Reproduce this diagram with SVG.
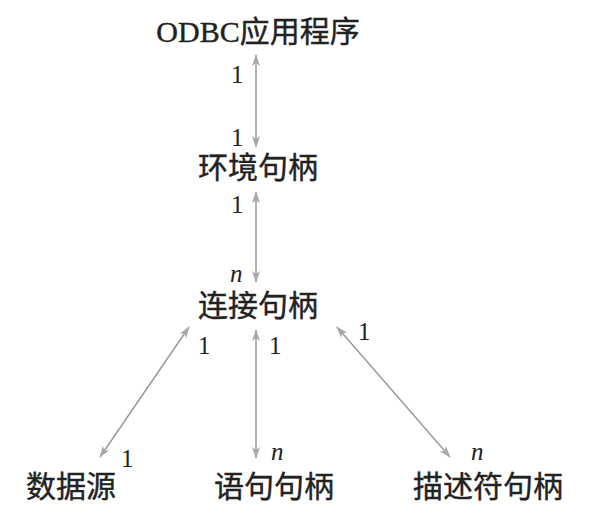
<svg xmlns="http://www.w3.org/2000/svg" width="604" height="520" viewBox="0 0 604 520">
<style>
.node{font-family:"Liberation Serif","Noto Sans CJK SC",serif;font-size:30px;fill:#222;stroke:#222;stroke-width:0.4;text-anchor:middle}
.lbl{font-family:"Liberation Serif",serif;font-size:25px;fill:#222}
.it{font-style:italic}
.conn{stroke:#9a9a9a;stroke-width:1.5;fill:none;marker-start:url(#ah);marker-end:url(#ah)}
</style>
<defs>
<marker id="ah" viewBox="0 0 12 8" refX="11" refY="4" markerWidth="13" markerHeight="8" markerUnits="userSpaceOnUse" orient="auto-start-reverse">
<path d="M0,0 L12,4 L0,8 L3,4 Z" fill="#a8a8a8"/>
</marker>
</defs>
<rect width="604" height="520" fill="#fff"/>
<g id="connectors">
<line class="conn" x1="256" y1="55" x2="256" y2="147"/>
<line class="conn" x1="256" y1="192" x2="256" y2="282"/>
<line class="conn" x1="189" y1="327" x2="100" y2="457"/>
<line class="conn" x1="256" y1="330" x2="256" y2="458"/>
<line class="conn" x1="337" y1="327" x2="450" y2="457"/>
</g>
<g id="labels">
<text class="lbl" x="231" y="83">1</text>
<text class="lbl" x="231" y="146">1</text>
<text class="lbl" x="231" y="213">1</text>
<text class="lbl it" x="230" y="282">n</text>
<text class="lbl" x="198" y="354">1</text>
<text class="lbl" x="121" y="467">1</text>
<text class="lbl" x="269" y="354">1</text>
<text class="lbl it" x="271" y="460">n</text>
<text class="lbl" x="358" y="340">1</text>
<text class="lbl it" x="471" y="460">n</text>
</g>
<g id="odbc"><text class="node" x="258" y="42">ODBC应用程序</text></g>
<g id="env"><text class="node" x="258" y="178">环境句柄</text></g>
<g id="conn-handle"><text class="node" x="258" y="316">连接句柄</text></g>
<g id="datasource"><text class="node" x="71" y="497">数据源</text></g>
<g id="stmt"><text class="node" x="274" y="497">语句句柄</text></g>
<g id="desc"><text class="node" x="488" y="497">描述符句柄</text></g>
</svg>
